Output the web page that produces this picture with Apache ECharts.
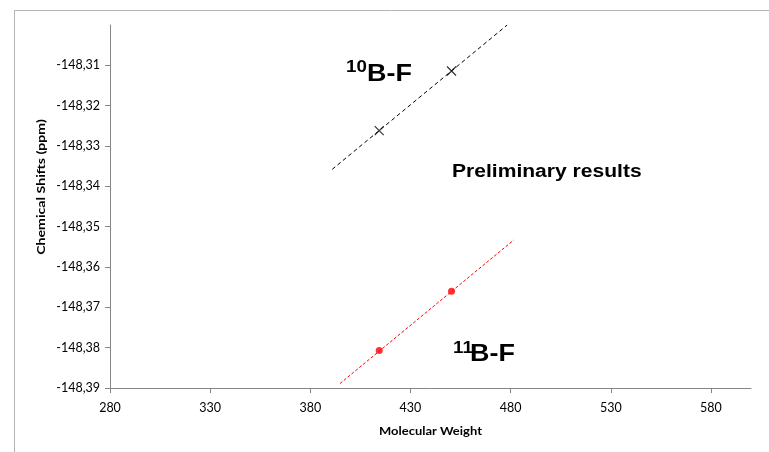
<!DOCTYPE html>
<html>
<head>
<meta charset="utf-8">
<style>
    html, body { margin: 0; padding: 0; background: #fff; }
    #chart { width: 769px; height: 452px; }
</style>
<script src="https://cdn.jsdelivr.net/npm/echarts@6/dist/echarts.min.js"></script>
</head>
<body>
<div id="chart"></div>
<script>
// molecular weight of the two measured compounds
let molecularWeight = [414.4, 450.5];
// chemical shifts (ppm)
let shift10B = [-148.3262, -148.3114];
let shift11B = [-148.3807, -148.3660];

// linear trendlines, start / end of each dashed line
let trend10BX = [390.9, 478.3];
let trend10BY = [-148.3358, -148.3000];
let trend11BX = [394.8, 481.6];
let trend11BY = [-148.3889, -148.3533];

// tick labels
let xTicks = [280, 330, 380, 430, 480, 530, 580];
let yTicks = [-148.39, -148.38, -148.37, -148.36, -148.35, -148.34, -148.33, -148.32, -148.31];

function pairs(xs, ys) {
    return xs.map((x, i) => [x, ys[i]]);
}

let axisColor = '#868686';
let labelFont = 'Lato, "Open Sans", sans-serif';
let boldFont = '"Liberation Sans", Arial, sans-serif';
let stretch = 1.17; // text in the original is slightly wider than normal

let option = {
    animation: false,
    backgroundColor: '#fff',
    grid: {
        left: 110,
        right: 18,
        top: 25,
        bottom: 64,
        containLabel: false
    },
    xAxis: {
        type: 'value',
        min: 280,
        max: 600,
        axisLine: {
            show: true,
            lineStyle: { color: axisColor, width: 1 }
        },
        axisTick: {
            show: true,
            length: 5,
            customValues: xTicks,
            lineStyle: { color: axisColor }
        },
        axisLabel: {
            customValues: xTicks,
            margin: 13,
            color: '#000',
            fontFamily: labelFont,
            fontSize: 12.5
        },
        splitLine: { show: false }
    },
    yAxis: {
        type: 'value',
        min: -148.39,
        max: -148.30,
        axisLine: {
            show: true,
            lineStyle: { color: axisColor, width: 1 }
        },
        axisTick: {
            show: true,
            length: 5,
            customValues: yTicks,
            lineStyle: { color: axisColor }
        },
        axisLabel: {
            customValues: yTicks,
            margin: 10,
            color: '#000',
            fontFamily: labelFont,
            fontSize: 12.5,
            formatter: (v) => v.toFixed(2).replace('.', ',')
        },
        splitLine: { show: false }
    },
    graphic: [
        // outer frame, only top and left edges are visible
        {
            type: 'polyline',
            silent: true,
            shape: { points: [[14.5, 452], [14.5, 10.5], [769, 10.5]] },
            style: { stroke: '#b4b4b4', lineWidth: 1, fill: null }
        },
        // axis titles
        {
            type: 'text',
            x: 41,
            y: 187,
            rotation: Math.PI / 2,
            scaleX: 1.18,
            style: {
                text: 'Chemical Shifts (ppm)',
                fill: '#000',
                font: 'bold 12px ' + labelFont,
                align: 'center',
                verticalAlign: 'middle'
            }
        },
        {
            type: 'text',
            x: 430.5,
            y: 431,
            scaleX: 1.08,
            style: {
                text: 'Molecular Weight',
                fill: '#000',
                font: 'bold 12px ' + labelFont,
                align: 'center',
                verticalAlign: 'middle'
            }
        },
        // 10B-F label
        {
            type: 'text',
            x: 346,
            y: 68,
            scaleX: stretch,
            style: {
                text: '10',
                fill: '#000',
                font: 'bold 16px ' + boldFont,
                verticalAlign: 'middle'
            }
        },
        {
            type: 'text',
            x: 367,
            y: 75,
            scaleX: stretch,
            style: {
                text: 'B-F',
                fill: '#000',
                font: 'bold 23px ' + boldFont,
                verticalAlign: 'middle'
            }
        },
        // 11B-F label
        {
            type: 'text',
            x: 453,
            y: 348.5,
            scaleX: stretch,
            style: {
                text: '11',
                fill: '#000',
                font: 'bold 16px ' + boldFont,
                verticalAlign: 'middle'
            }
        },
        {
            type: 'text',
            x: 470,
            y: 355,
            scaleX: stretch,
            style: {
                text: 'B-F',
                fill: '#000',
                font: 'bold 23px ' + boldFont,
                verticalAlign: 'middle'
            }
        },
        {
            type: 'text',
            x: 452,
            y: 172,
            scaleX: stretch,
            style: {
                text: 'Preliminary results',
                fill: '#000',
                font: 'bold 18px ' + boldFont,
                verticalAlign: 'middle'
            }
        }
    ],
    series: [
        {
            name: '10B-F trend',
            type: 'line',
            data: pairs(trend10BX, trend10BY),
            symbol: 'none',
            lineStyle: { color: '#000', width: 1, type: [4, 3] },
            z: 2
        },
        {
            name: '10B-F',
            type: 'scatter',
            data: pairs(molecularWeight, shift10B),
            symbol: 'path://M0,0L10,10M10,0L0,10',
            symbolSize: 9,
            itemStyle: { color: 'none', borderColor: '#000', borderWidth: 1.2 },
            z: 3
        },
        {
            name: '11B-F trend',
            type: 'line',
            data: pairs(trend11BX, trend11BY),
            symbol: 'none',
            lineStyle: { color: '#ff0000', width: 1, type: [3, 2] },
            z: 2
        },
        {
            name: '11B-F',
            type: 'scatter',
            data: pairs(molecularWeight, shift11B),
            symbol: 'circle',
            symbolSize: 7,
            itemStyle: { color: '#ff0000' },
            z: 3
        }
    ]
};

let chart = echarts.init(document.getElementById('chart'));
chart.setOption(option);
</script>
</body>
</html>
